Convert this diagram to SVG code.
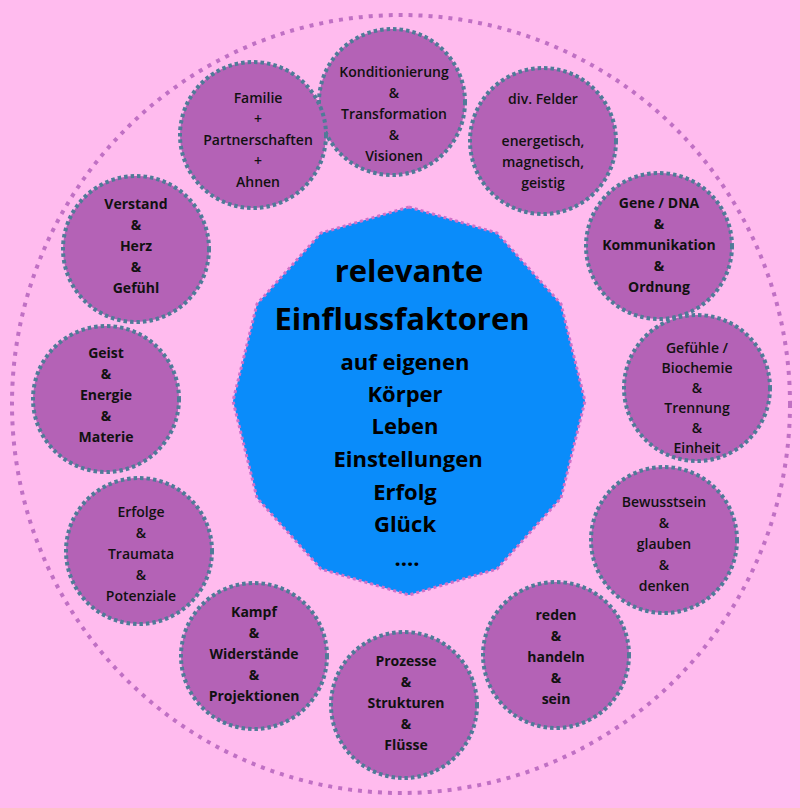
<svg xmlns="http://www.w3.org/2000/svg" width="800" height="808" viewBox="0 0 800 808">
<style>
.n{fill:#b462b6;stroke:#4f7b98;stroke-width:4;stroke-dasharray:3.5 3}
.t{font-family:"Open Sans","Liberation Sans",sans-serif;font-size:14px;font-weight:600;text-anchor:middle;fill:#111}
.b{font-weight:bold}
.c{font-family:"Open Sans","Liberation Sans",sans-serif;font-weight:bold;text-anchor:middle;fill:#000}
</style>
<rect width="800" height="808" fill="#ffbbee"/>
<g id="connectors"></g>
<circle id="outer" cx="401" cy="404" r="389" fill="none" stroke="#c070c4" stroke-width="4" stroke-dasharray="4 6"/>
<g id="center">
<polygon points="409,207 497,233 561,304 585,401 561,498 497,569 409,595 321,569 257,498 233,401 257,304 321,233" fill="#0a8cfa" stroke="#d070c8" stroke-width="3" stroke-dasharray="3 3"/>
<text class="c" x="409" y="282" font-size="31">relevante</text>
<text class="c" x="402" y="330" font-size="31">Einflussfaktoren</text>
<text class="c" x="405" y="370" font-size="22">auf eigenen</text>
<text class="c" x="405" y="402" font-size="22">Körper</text>
<text class="c" x="405" y="434" font-size="22">Leben</text>
<text class="c" x="408" y="467" font-size="22">Einstellungen</text>
<text class="c" x="405" y="500" font-size="22">Erfolg</text>
<text class="c" x="405" y="532" font-size="22">Glück</text>
<text class="c" x="407" y="566" font-size="22">....</text>
</g>
<g id="n1"><circle class="n" cx="392" cy="102" r="73"/><text class="t"><tspan x="394" y="77">Konditionierung</tspan><tspan x="394" y="98">&amp;</tspan><tspan x="394" y="119">Transformation</tspan><tspan x="394" y="140">&amp;</tspan><tspan x="394" y="161">Visionen</tspan></text></g>
<g id="n2"><circle class="n" cx="543" cy="141" r="73"/><text class="t"><tspan x="543" y="104">div. Felder</tspan><tspan x="543" y="146">energetisch,</tspan><tspan x="543" y="167">magnetisch,</tspan><tspan x="543" y="188">geistig</tspan></text></g>
<g id="n3"><circle class="n" cx="659" cy="246" r="73"/><text class="t b"><tspan x="659" y="208">Gene / DNA</tspan><tspan x="659" y="229">&amp;</tspan><tspan x="659" y="250">Kommunikation</tspan><tspan x="659" y="271">&amp;</tspan><tspan x="659" y="292">Ordnung</tspan></text></g>
<g id="n4"><circle class="n" cx="697" cy="388" r="73"/><text class="t"><tspan x="697" y="353">Gefühle /</tspan><tspan x="697" y="373">Biochemie</tspan><tspan x="697" y="393">&amp;</tspan><tspan x="697" y="413">Trennung</tspan><tspan x="697" y="433">&amp;</tspan><tspan x="697" y="453">Einheit</tspan></text></g>
<g id="n5"><circle class="n" cx="664" cy="540" r="73"/><text class="t"><tspan x="664" y="507">Bewusstsein</tspan><tspan x="664" y="528">&amp;</tspan><tspan x="664" y="549">glauben</tspan><tspan x="664" y="570">&amp;</tspan><tspan x="664" y="591">denken</tspan></text></g>
<g id="n6"><circle class="n" cx="556" cy="655" r="73"/><text class="t b"><tspan x="556" y="620">reden</tspan><tspan x="556" y="641">&amp;</tspan><tspan x="556" y="662">handeln</tspan><tspan x="556" y="683">&amp;</tspan><tspan x="556" y="704">sein</tspan></text></g>
<g id="n7"><circle class="n" cx="404" cy="705" r="73"/><text class="t b"><tspan x="406" y="666">Prozesse</tspan><tspan x="406" y="687">&amp;</tspan><tspan x="406" y="708">Strukturen</tspan><tspan x="406" y="729">&amp;</tspan><tspan x="406" y="750">Flüsse</tspan></text></g>
<g id="n8"><circle class="n" cx="254" cy="656" r="73"/><text class="t b"><tspan x="254" y="617">Kampf</tspan><tspan x="254" y="638">&amp;</tspan><tspan x="254" y="659">Widerstände</tspan><tspan x="254" y="680">&amp;</tspan><tspan x="254" y="701">Projektionen</tspan></text></g>
<g id="n9"><circle class="n" cx="139" cy="551" r="73"/><text class="t"><tspan x="141" y="517">Erfolge</tspan><tspan x="141" y="538">&amp;</tspan><tspan x="141" y="559">Traumata</tspan><tspan x="141" y="580">&amp;</tspan><tspan x="141" y="601">Potenziale</tspan></text></g>
<g id="n10"><circle class="n" cx="106" cy="399" r="73"/><text class="t b"><tspan x="106" y="358">Geist</tspan><tspan x="106" y="379">&amp;</tspan><tspan x="106" y="400">Energie</tspan><tspan x="106" y="421">&amp;</tspan><tspan x="106" y="442">Materie</tspan></text></g>
<g id="n11"><circle class="n" cx="136" cy="249" r="73"/><text class="t b"><tspan x="136" y="209">Verstand</tspan><tspan x="136" y="230">&amp;</tspan><tspan x="136" y="251">Herz</tspan><tspan x="136" y="272">&amp;</tspan><tspan x="136" y="293">Gefühl</tspan></text></g>
<g id="n12"><circle class="n" cx="253" cy="135" r="73"/><text class="t"><tspan x="258" y="103">Familie</tspan><tspan x="258" y="124">+</tspan><tspan x="258" y="145">Partnerschaften</tspan><tspan x="258" y="166">+</tspan><tspan x="258" y="187">Ahnen</tspan></text></g>
</svg>
